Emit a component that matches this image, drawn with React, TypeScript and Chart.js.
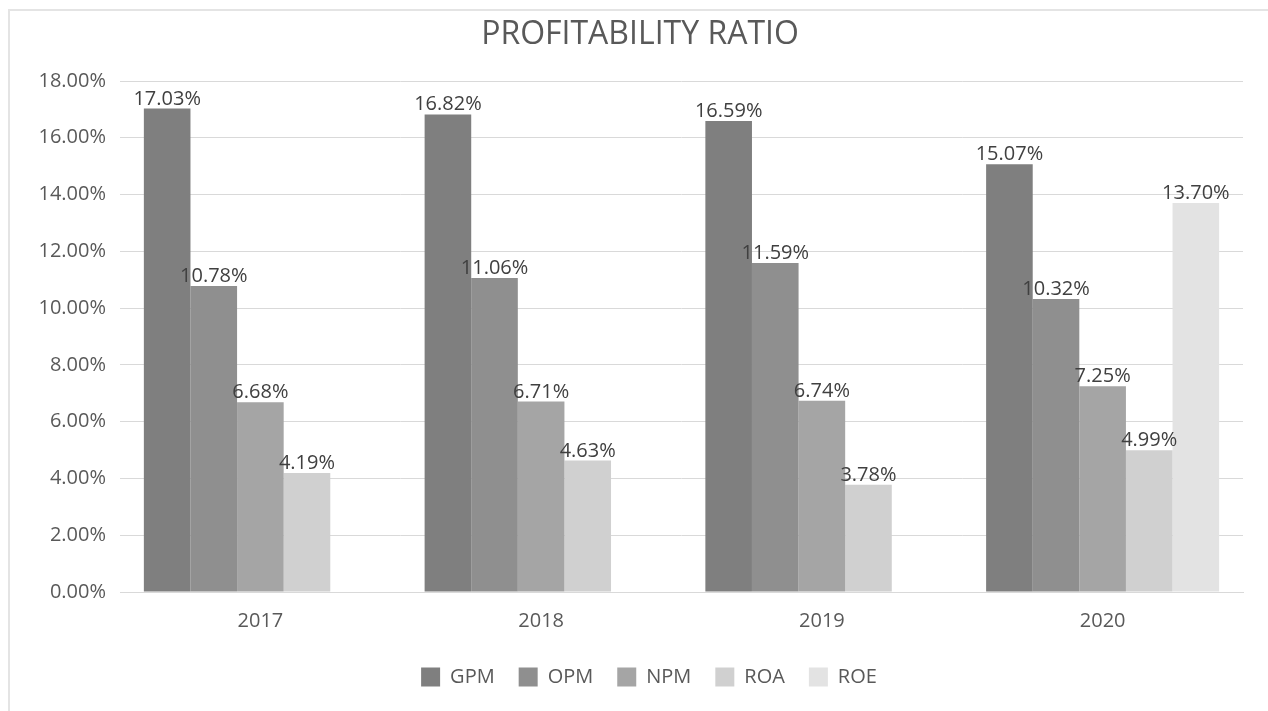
import React, { useEffect, useRef } from "react";
import { Chart, registerables } from "chart.js";

Chart.register(...registerables);

// Profitability ratios by year, in percent
const years = ["2017", "2018", "2019", "2020"];
const gpm = [17.03, 16.82, 16.59, 15.07];
const opm = [10.78, 11.06, 11.59, 10.32];
const npm = [6.68, 6.71, 6.74, 7.25];
const roa = [4.19, 4.63, 3.78, 4.99];
const roe: (number | null)[] = [null, null, null, 13.7];

const seriesNames = ["GPM", "OPM", "NPM", "ROA", "ROE"];
const seriesValues = [gpm, opm, npm, roa, roe];
const seriesColors = ["#7f7f7f", "#8f8f8f", "#a5a5a5", "#d0d0d0", "#e3e3e3"];

const yMin = 0;
const yMax = 18;
const yStep = 2;

const FONT = "'Open Sans', 'Noto Sans', sans-serif";
const TEXT = "#595959";
const LABEL_TEXT = "#404040";
const GRID = "#d9d9d9";

const CANVAS_W = 1258;
const CANVAS_H = 700;

// Writes each bar's value just above it
const valueLabels = {
  id: "valueLabels",
  afterDatasetsDraw(chart: Chart) {
    const ctx = chart.ctx;
    ctx.save();
    ctx.font = `20px ${FONT}`;
    ctx.fillStyle = LABEL_TEXT;
    ctx.textAlign = "center";
    ctx.textBaseline = "alphabetic";
    chart.data.datasets.forEach((ds, di) => {
      const meta = chart.getDatasetMeta(di);
      meta.data.forEach((el: any, i) => {
        const v = ds.data[i] as number | null;
        if (v === null || v === undefined) return;
        ctx.fillText(`${v.toFixed(2)}%`, el.x, el.y - 4);
      });
    });
    ctx.restore();
  },
};

// Nudges the legend row to the right
const legendOffset = {
  id: "legendOffset",
  afterLayout(chart: any) {
    if (chart.legend) {
      chart.legend.left += 9;
      chart.legend.right += 9;
    }
  },
};

export default function App() {
  const canvasRef = useRef<HTMLCanvasElement | null>(null);

  useEffect(() => {
    if (!canvasRef.current) return;
    const chart = new Chart(canvasRef.current, {
      type: "bar",
      data: {
        labels: years,
        datasets: seriesNames.map((name, i) => ({
          label: name,
          data: seriesValues[i],
          backgroundColor: seriesColors[i],
          borderWidth: 0,
          categoryPercentage: 0.83,
          barPercentage: 1,
        })),
      },
      options: {
        responsive: false,
        animation: false,
        devicePixelRatio: 1,
        layout: { padding: { left: 27, right: 25, top: 0, bottom: 14 } },
        plugins: {
          title: {
            display: true,
            text: "PROFITABILITY RATIO",
            color: TEXT,
            font: { family: FONT, size: 32, weight: "normal" },
            padding: { top: 5, bottom: 26.6 },
          },
          legend: {
            position: "bottom",
            labels: {
              boxWidth: 19,
              boxHeight: 19,
              padding: 24,
              color: TEXT,
              font: { family: FONT, size: 20 },
            },
          },
          tooltip: { enabled: false },
        },
        scales: {
          x: {
            grid: { display: false, drawTicks: false },
            border: { display: true, color: GRID, width: 1 },
            ticks: { color: TEXT, font: { family: FONT, size: 20 }, padding: 17 },
            afterFit: (s: any) => {
              s.height = 51;
            },
          },
          y: {
            min: yMin,
            max: yMax,
            ticks: {
              stepSize: yStep,
              color: TEXT,
              font: { family: FONT, size: 20 },
              padding: 14,
              callback: (v: any) => `${Number(v).toFixed(2)}%`,
            },
            grid: { color: GRID, lineWidth: 1, drawTicks: false },
            border: { display: false },
            afterFit: (s: any) => {
              s.width = 83;
            },
          },
        },
      },
      plugins: [valueLabels, legendOffset],
    });
    return () => chart.destroy();
  }, []);

  return (
    <div
      style={{
        position: "fixed",
        left: 8,
        top: 9,
        width: CANVAS_W + 2,
        height: CANVAS_H + 2,
        boxSizing: "border-box",
        borderTop: "2px solid #e4e4e4",
        borderLeft: "2px solid #e4e4e4",
        background: "#ffffff",
      }}
    >
      <canvas
        ref={canvasRef}
        width={CANVAS_W}
        height={CANVAS_H}
        style={{ display: "block", width: CANVAS_W, height: CANVAS_H }}
      />
    </div>
  );
}
